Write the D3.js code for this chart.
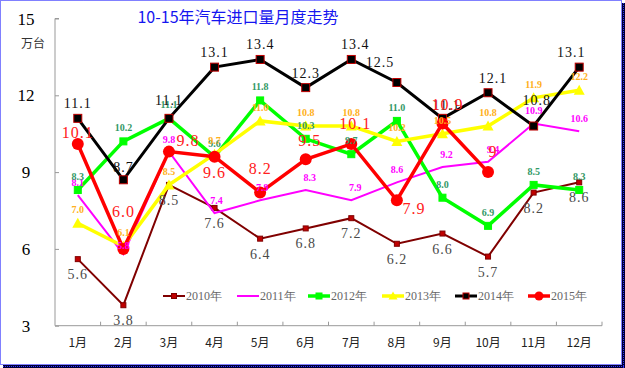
<!DOCTYPE html>
<html><head><meta charset="utf-8">
<script src="https://cdn.jsdelivr.net/npm/d3@7"></script>
<style>
html,body{margin:0;padding:0;background:#fff;}
svg{display:block;}
</style></head>
<body>
<svg id="chart" width="625" height="368"></svg>
<script>
const months = ["1月","2月","3月","4月","5月","6月","7月","8月","9月","10月","11月","12月"];
const seriesNames = ["2010年","2011年","2012年","2013年","2014年","2015年"];
const yTicks = [3,6,9,12,15];
const v2010 = [5.6,3.8,8.5,7.6,6.4,6.8,7.2,6.2,6.6,5.7,8.2,8.6];
const v2011 = [8.1,5.8,9.8,7.4,7.9,8.3,7.9,8.6,9.2,9.4,10.9,10.6];
const v2012 = [8.3,10.2,11.1,9.6,11.8,10.3,9.7,11.0,8.0,6.9,8.5,8.3];
const v2013 = [7.0,6.1,8.5,9.7,11.0,10.8,10.8,10.2,10.5,10.8,11.9,12.2];
const v2014 = [11.1,8.7,11.1,13.1,13.4,12.3,13.4,12.5,11.1,12.1,10.8,13.1];
const v2015 = [10.1,6.0,9.8,9.6,8.2,9.5,10.1,7.9,10.9,9.0];
const title = "10-15年汽车进口量月度走势";
const unit = "万台";

// styles
const styles = [
  {data:v2010, color:"#800000", width:2,   marker:"square", msize:5, mfill:"#C00000", mstroke:"#800000", lcolor:"#4a4a4a", lsize:14, lfont:"Liberation Serif", dy:20, weight:"normal"},
  {data:v2011, color:"#FF00FF", width:2,   marker:null, lcolor:"#FF00FF", lsize:10, lfont:"Liberation Serif", dy:-9, weight:"bold"},
  {data:v2012, color:"#00FF00", width:3.5, marker:"square", msize:7, mfill:"#00FF00", mstroke:"#00FF00", lcolor:"#339966", lsize:10, lfont:"Liberation Serif", dy:-10, weight:"bold"},
  {data:v2013, color:"#FFFF00", width:3.5, marker:"triangle", msize:9, mfill:"#FFFF00", mstroke:"#FFFF00", lcolor:"#FFB020", lsize:10, lfont:"Liberation Serif", dy:-10, weight:"bold"},
  {data:v2014, color:"#000000", width:3,   marker:"square", msize:8, mfill:"#000000", mstroke:"#C00000", lcolor:"#111", lsize:14, lfont:"Liberation Serif", dy:-10, weight:"normal"},
  {data:v2015, color:"#FF0000", width:3.5, marker:"circle", msize:6, mfill:"#FF0000", mstroke:"#FF0000", lcolor:"#FF2020", lsize:16, lfont:"Liberation Serif", dy:-6, weight:"normal"}
];
// per-point label nudges (dx, dy)
const redNudge = [[0,0],[0,-26],[19,0],[0,27],[0,-13],[4,-7],[4,-9],[17,20],[5,-7],[5,-9]];
const magNudge = [[0,0],[0,4],[0,0],[2,0],[2,0],[4,0],[4,0],[0,0],[4,0],[5,0],[0,0],[0,0]];
const blackNudge = [[0,0],[0,2],[0,-3],[0,0],[0,0],[0,0],[4,0],[-17,-6],[4,2],[5,0],[3,-11],[-8,0]];

const svg = d3.select("#chart");
const L = 55, R = 602, T = 18.5, B = 325.7;
const x = d3.scaleBand().domain(months).range([L, R]);
const cx = m => x(m) + x.bandwidth()/2;
const y = d3.scaleLinear().domain([3,15]).range([B, T]);

// frame
svg.append("rect").attr("x",0.5).attr("y",0.5).attr("width",621).attr("height",364)
  .attr("fill","#fff").attr("stroke","#0000FF").attr("stroke-width",1).attr("stroke-dasharray","1,1");
svg.append("rect").attr("x",622).attr("y",3).attr("width",3).attr("height",365).attr("fill","#000033");
svg.append("rect").attr("x",3).attr("y",365).attr("width",622).attr("height",3).attr("fill","#000033");
svg.append("line").attr("x1",623.5).attr("x2",623.5).attr("y1",3).attr("y2",368).attr("stroke","#3030ff").attr("stroke-dasharray","1,1");
svg.append("line").attr("x1",3).attr("x2",625).attr("y1",366.5).attr("y2",366.5).attr("stroke","#3030ff").attr("stroke-dasharray","1,1");

// axes
const axCol = "#999";
const yAxis = d3.axisRight(y).tickValues(yTicks).tickSize(4).tickFormat("");
const gy = svg.append("g").attr("transform",`translate(${L},0)`).call(yAxis);
gy.selectAll("path,line").attr("stroke",axCol);
gy.select(".domain").attr("d",`M4,${T}H0V${B}`);
svg.append("g").selectAll("text").data(yTicks).join("text")
  .attr("x",26).attr("y",d=>y(d)+6).attr("text-anchor","middle")
  .attr("font-family","Liberation Serif").attr("font-size",17).attr("fill","#000").text(d=>d);
svg.append("text").attr("x",33).attr("y",48).attr("text-anchor","middle")
  .attr("font-family","Noto Sans CJK SC").attr("font-size",12).attr("fill","#333").text(unit);

const bounds = months.map(m => x(m)).slice(1).concat([R]);
const gx = svg.append("g").attr("transform",`translate(0,${B})`);
gx.append("line").attr("x1",L).attr("x2",R).attr("stroke",axCol);
gx.selectAll("line.t").data(bounds).join("line").attr("class","t")
  .attr("x1",d=>d).attr("x2",d=>d).attr("y1",0).attr("y2",-4).attr("stroke",axCol);
gx.selectAll("text").data(months).join("text")
  .attr("x",d=>cx(d)).attr("y",21).attr("text-anchor","middle")
  .attr("font-family","Noto Sans CJK SC").attr("font-size",12).attr("fill","#222").text(d=>d);

// title
svg.append("text").attr("x",238).attr("y",23).attr("text-anchor","middle")
  .attr("font-family","Noto Sans CJK SC").attr("font-size",16).attr("fill","#1515F0").text(title);

// lines
const line = d3.line().x((d,i)=>cx(months[i])).y(d=>y(d));
function drawMarker(g, s, px, py){
  if(!s.marker) return;
  if(s.marker==="square"){
    g.append("rect").attr("x",px-s.msize/2).attr("y",py-s.msize/2).attr("width",s.msize).attr("height",s.msize)
      .attr("fill",s.mfill).attr("stroke",s.mstroke).attr("stroke-width",1);
  } else if(s.marker==="circle"){
    g.append("circle").attr("cx",px).attr("cy",py).attr("r",s.msize).attr("fill",s.mfill);
  } else if(s.marker==="triangle"){
    const h=s.msize;
    g.append("path").attr("d",`M${px},${py-h/2-1}L${px+h/2+1},${py+h/2}L${px-h/2-1},${py+h/2}Z`).attr("fill",s.mfill);
  }
}
styles.forEach(s=>{
  const g = svg.append("g");
  g.append("path").attr("d",line(s.data)).attr("fill","none").attr("stroke",s.color)
    .attr("stroke-width",s.width).attr("stroke-linejoin","miter");
  s.data.forEach((v,i)=>drawMarker(g,s,cx(months[i]),y(v)));
});

// labels
styles.forEach((s,si)=>{
  const g = svg.append("g");
  s.data.forEach((v,i)=>{
    let dx=0, dy=s.dy;
    if(si===5){dx=redNudge[i][0]; dy+=redNudge[i][1];}
    if(si===1){dx=magNudge[i][0]; dy+=magNudge[i][1];}
    if(si===4){dx=blackNudge[i][0]; dy+=blackNudge[i][1];}
    g.append("text").attr("x",cx(months[i])+dx).attr("y",y(v)+dy).attr("text-anchor","middle")
      .attr("font-family",s.lfont).attr("font-size",s.lsize).attr("font-weight",s.weight)
      .attr("letter-spacing", s.lsize>=14 ? 1 : 0)
      .attr("fill",s.lcolor).text(si===5 && v===9 ? "9" : v.toFixed(1));
  });
});

// legend
const legX = [163,237,308,382,455,528];
const lg = svg.append("g");
styles.forEach((s,i)=>{
  const ly = 296;
  lg.append("line").attr("x1",legX[i]).attr("x2",legX[i]+22).attr("y1",ly).attr("y2",ly)
    .attr("stroke",s.color).attr("stroke-width",s.width);
  const ms = Object.assign({},s,{msize: s.marker==="circle"?4.5:(s.marker==="triangle"?7:Math.min(s.msize,6))});
  drawMarker(lg, ms, legX[i]+11, ly);
  lg.append("text").attr("x",legX[i]+23).attr("y",ly+4).attr("font-family","Liberation Serif")
    .attr("font-size",12).attr("fill","#666").text(seriesNames[i]);
});
</script>
</body></html>
